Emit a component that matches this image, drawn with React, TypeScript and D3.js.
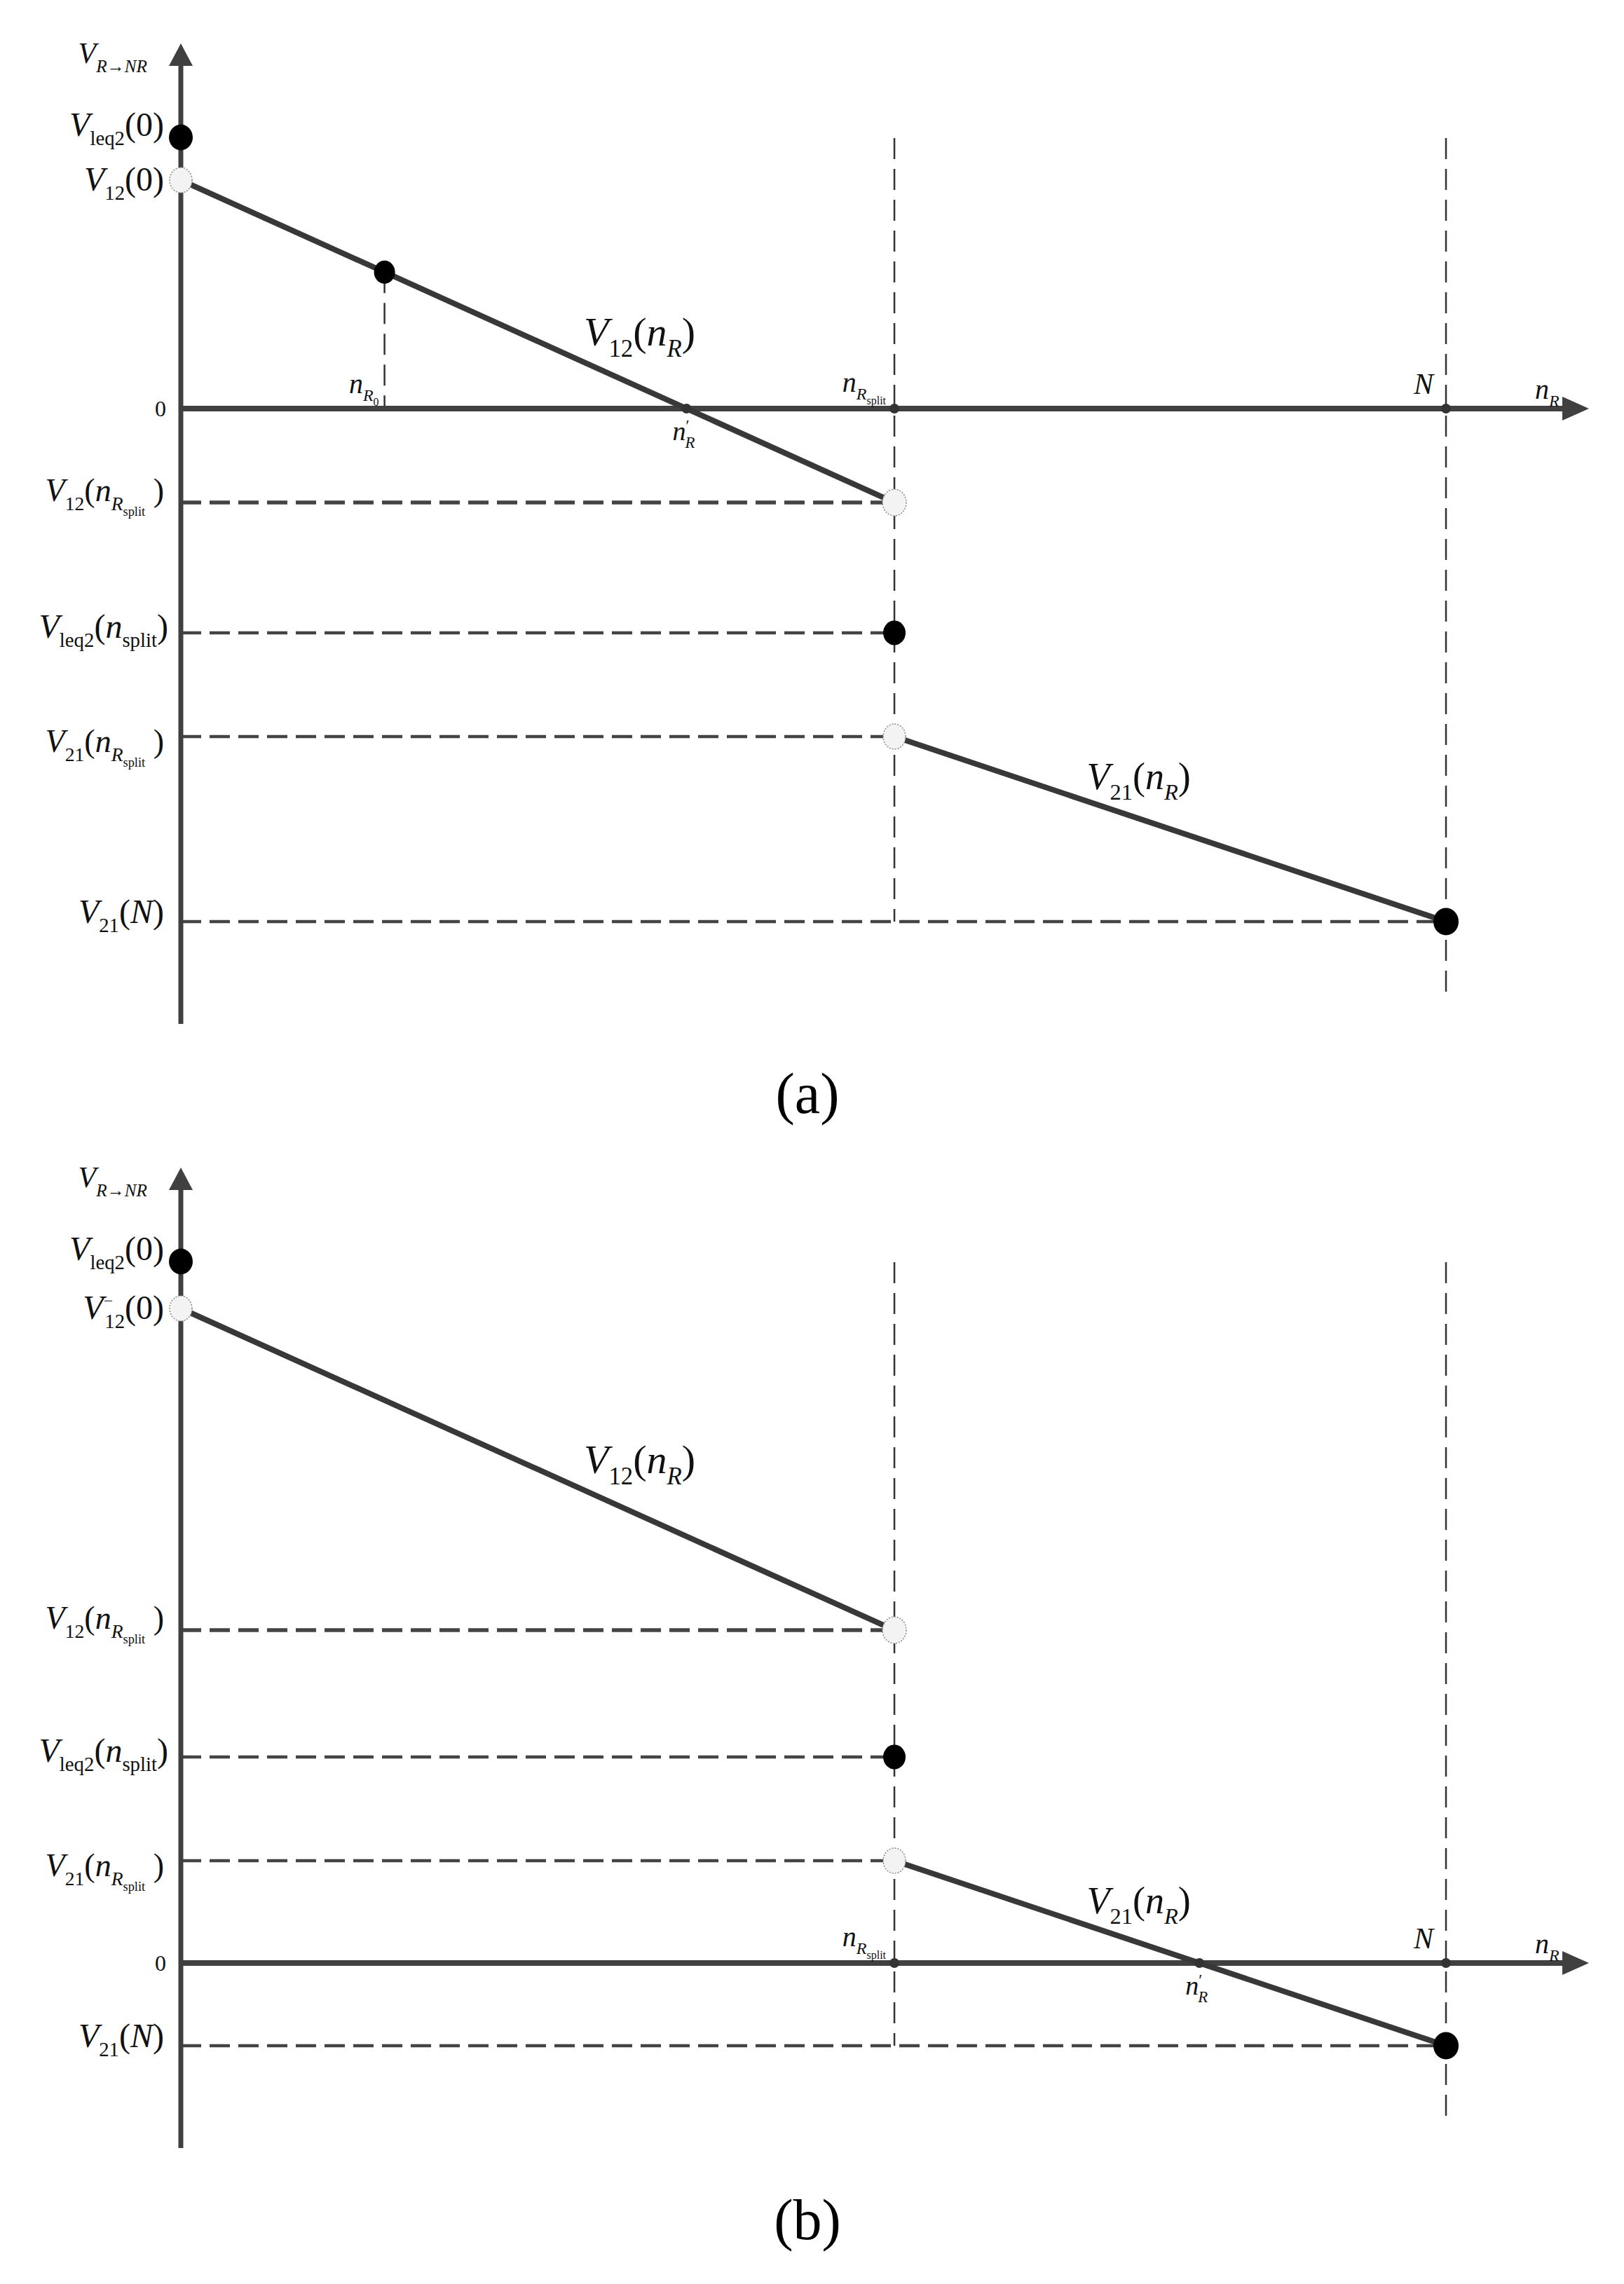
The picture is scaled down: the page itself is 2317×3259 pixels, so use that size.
import React from 'react';
import * as d3 from 'd3';

const WIDTH = 2317;
const HEIGHT = 3259;

// ---------------- data (abstract units) ----------------
// n_R axis positions
const xKeys = ['zero', 'nR0', 'nSplit', 'N', 'axisEnd'];
const xVals = [0, 16.1, 56.4, 100, 111.3];

// per panel values of V_{R->NR}
const panelCaptions = ['(a)', '(b)'];
const yTopVals = [52.1, 113.5];
const yBottomVals = [-87.8, -26.4];
const vLeq2Zero = [38.7, 100.1];
const v12Zero = [32.6, 93.4];
const v12Split = [-13.4, 47.5];
const vLeq2Split = [-32.0, 29.4];
const v21Split = [-46.8, 14.6];
const v21End = [-73.2, -11.8];
const guideTopVals = [38.6, 100.0];
const guideNBottomVals = [-84.5, -23.1];
const hasR0Marker = [true, false];

// ---------------- layout ----------------
const PANEL_TOP = [62, 1666];
const PANEL_BOTTOM = [1461, 3065];
const X_LEFT = 258;
const X_RIGHT = 2267;
const CAPTION_Y = [1588, 3195];
const CAPTION_X = 1152;

const SERIF = "'Liberation Serif', 'Times New Roman', serif";
const AXIS_COLOR = '#404040';
const LINE_COLOR = '#383838';

type Seg = { t: string; it?: boolean; s?: number; b?: number; dx?: number };

function Rich({ x, y, size, anchor = 'start', segs }: { x: number; y: number; size: number; anchor?: string; segs: Seg[] }) {
  let prev = 0;
  return (
    <text x={x} y={y} fontSize={size} textAnchor={anchor as any} fontFamily={SERIF} fill="#111">
      {segs.map((g, k) => {
        const b = g.b ?? 0;
        const dy = (b - prev) * size;
        prev = b;
        return (
          <tspan key={k} dy={dy} dx={g.dx ?? 0} fontSize={size * (g.s ?? 1)} fontStyle={g.it ? 'italic' : 'normal'}>
            {g.t}
          </tspan>
        );
      })}
    </text>
  );
}

const S = 0.6; // subscript size
const SB = 0.28; // subscript baseline shift
const SS = 0.4; // sub-subscript size
const SSB = 0.45;

const lblVR: Seg[] = [{ t: 'V', it: true }, { t: 'R→NR', it: true, s: 0.6, b: 0.3 }];
const lblVleq2Zero: Seg[] = [{ t: 'V', it: true }, { t: 'leq2', s: S, b: SB }, { t: '(0)', b: 0 }];
const lblV12ZeroA: Seg[] = [{ t: 'V', it: true }, { t: '12', s: S, b: SB }, { t: '(0)', b: 0 }];
const lblV12ZeroB: Seg[] = [
  { t: 'V', it: true },
  { t: '−', s: 0.5, b: -0.38 },
  { t: '12', s: S, b: SB, dx: -12 },
  { t: '(0)', b: 0 },
];
const lblV12Split: Seg[] = [
  { t: 'V', it: true },
  { t: '12', s: S, b: SB },
  { t: '(', b: 0 },
  { t: 'n', it: true },
  { t: 'R', it: true, s: S, b: SB },
  { t: 'split', s: SS, b: SSB },
  { t: ' )', b: 0 },
];
const lblVleq2Split: Seg[] = [
  { t: 'V', it: true },
  { t: 'leq2', s: S, b: SB },
  { t: '(', b: 0 },
  { t: 'n', it: true },
  { t: 'split', s: S, b: SB },
  { t: ')', b: 0 },
];
const lblV21Split: Seg[] = [
  { t: 'V', it: true },
  { t: '21', s: S, b: SB },
  { t: '(', b: 0 },
  { t: 'n', it: true },
  { t: 'R', it: true, s: S, b: SB },
  { t: 'split', s: SS, b: SSB },
  { t: ' )', b: 0 },
];
const lblV21N: Seg[] = [{ t: 'V', it: true }, { t: '21', s: S, b: SB }, { t: '(', b: 0 }, { t: 'N', it: true }, { t: ')' }];
const lblV12n: Seg[] = [{ t: 'V', it: true }, { t: '12', s: S, b: SB }, { t: '(', b: 0 }, { t: 'n', it: true }, { t: 'R', it: true, s: S, b: SB }, { t: ')', b: 0 }];
const lblV21n: Seg[] = [{ t: 'V', it: true }, { t: '21', s: S, b: SB }, { t: '(', b: 0 }, { t: 'n', it: true }, { t: 'R', it: true, s: S, b: SB }, { t: ')', b: 0 }];
const lblNR0: Seg[] = [{ t: 'n', it: true }, { t: 'R', it: true, s: S, b: SB }, { t: '0', s: SS, b: SSB }];
const lblNSplit: Seg[] = [{ t: 'n', it: true }, { t: 'R', it: true, s: S, b: SB }, { t: 'split', s: SS, b: SSB }];
const lblN: Seg[] = [{ t: 'N', it: true }];
const lblNR: Seg[] = [{ t: 'n', it: true }, { t: 'R', it: true, s: S, b: SB }];
const lblNPrime: Seg[] = [{ t: 'n', it: true }, { t: '′', s: 0.6, b: -0.35 }, { t: 'R', it: true, s: S, b: SB, dx: -6 }];

function Filled({ cx, cy, r = 16 }: { cx: number; cy: number; r?: number }) {
  return <ellipse cx={cx} cy={cy} rx={r} ry={r + 1.5} fill="#000" />;
}
function Hollow({ cx, cy, r = 16 }: { cx: number; cy: number; r?: number }) {
  return <ellipse cx={cx} cy={cy} rx={r} ry={r + 2} fill="#f3f3f3" stroke="#8a8a8a" strokeWidth={1.5} strokeDasharray="2,2" />;
}

function Panel({ i }: { i: number }) {
  const x = d3.scaleLinear().domain([xVals[0], xVals[4]]).range([X_LEFT, X_RIGHT]);
  const y = d3.scaleLinear().domain([yBottomVals[i], yTopVals[i]]).range([PANEL_BOTTOM[i], PANEL_TOP[i]]);
  const nSplit = xVals[2];
  const nN = xVals[3];
  const nR0 = xVals[1];
  const x0 = x(0);
  const y0 = y(0);
  const yTopPx = y(yTopVals[i]);
  const yBotPx = y(yBottomVals[i]);
  const line = d3.line<[number, number]>().x((d) => x(d[0])).y((d) => y(d[1]));

  const seg12: [number, number][] = [[0, v12Zero[i]], [nSplit, v12Split[i]]];
  const seg21: [number, number][] = [[nSplit, v21Split[i]], [nN, v21End[i]]];
  // zero crossing
  const cross = (s: [number, number][]) =>
    s[0][1] * s[1][1] < 0 ? s[0][0] + ((s[1][0] - s[0][0]) * s[0][1]) / (s[0][1] - s[1][1]) : null;
  const nCross = cross(seg12) ?? cross(seg21);
  const v12At = (n: number) => v12Zero[i] + ((v12Split[i] - v12Zero[i]) * n) / nSplit;
  const v21At = (n: number) => v21Split[i] + ((v21End[i] - v21Split[i]) * (n - nSplit)) / (nN - nSplit);

  const hDash = { stroke: '#444', strokeWidth: 4.5, strokeDasharray: '29,12' };
  const vDash = { stroke: '#333', strokeWidth: 2.5, strokeDasharray: '30,14' };

  const lab12n = 0.643 * nSplit;
  const lab21n = nSplit + 0.443 * (nN - nSplit);

  return (
    <g>
      {/* vertical guides */}
      <line x1={x(nSplit)} x2={x(nSplit)} y1={y(guideTopVals[i])} y2={y(v21End[i])} {...vDash} />
      <line x1={x(nN)} x2={x(nN)} y1={y(guideTopVals[i])} y2={y(guideNBottomVals[i])} {...vDash} />
      {hasR0Marker[i] && <line x1={x(nR0)} x2={x(nR0)} y1={y(v12At(nR0))} y2={y0} {...vDash} />}

      {/* horizontal dashed references */}
      <line x1={x0} x2={x(nSplit)} y1={y(v12Split[i])} y2={y(v12Split[i])} {...hDash} strokeWidth={5.5} />
      <line x1={x0} x2={x(nSplit)} y1={y(vLeq2Split[i])} y2={y(vLeq2Split[i])} {...hDash} />
      <line x1={x0} x2={x(nSplit)} y1={y(v21Split[i])} y2={y(v21Split[i])} {...hDash} />
      <line x1={x0} x2={x(nN)} y1={y(v21End[i])} y2={y(v21End[i])} {...hDash} />

      {/* axes */}
      <line x1={x0} x2={x0} y1={yBotPx} y2={yTopPx + 24} stroke={AXIS_COLOR} strokeWidth={7} />
      <polygon points={`${x0},${yTopPx} ${x0 - 17},${yTopPx + 32} ${x0 + 17},${yTopPx + 32}`} fill={AXIS_COLOR} />
      <line x1={x0} x2={X_RIGHT - 30} y1={y0} y2={y0} stroke={AXIS_COLOR} strokeWidth={8} />
      <polygon points={`${X_RIGHT},${y0} ${X_RIGHT - 38},${y0 - 17} ${X_RIGHT - 38},${y0 + 17}`} fill={AXIS_COLOR} />

      {/* function lines */}
      <path d={line(seg12) ?? ''} fill="none" stroke={LINE_COLOR} strokeWidth={8} />
      <path d={line(seg21) ?? ''} fill="none" stroke={LINE_COLOR} strokeWidth={8} />

      {/* axis tick dots */}
      <circle cx={x(nSplit)} cy={y0} r={7} fill="#333" />
      <circle cx={x(nN)} cy={y0} r={7} fill="#333" />
      {nCross !== null && <circle cx={x(nCross)} cy={y0} r={7} fill="#333" />}

      {/* markers */}
      <Filled cx={x0} cy={y(vLeq2Zero[i])} r={17} />
      <Hollow cx={x0} cy={y(v12Zero[i])} />
      {hasR0Marker[i] && <Filled cx={x(nR0)} cy={y(v12At(nR0))} r={15} />}
      <Hollow cx={x(nSplit)} cy={y(v12Split[i])} r={17} />
      <Filled cx={x(nSplit)} cy={y(vLeq2Split[i])} r={16} />
      <Hollow cx={x(nSplit)} cy={y(v21Split[i])} />
      <Filled cx={x(nN)} cy={y(v21End[i])} r={18} />

      {/* y-axis labels */}
      <Rich x={210} y={yTopPx + 28} size={42} anchor="end" segs={lblVR} />
      <Rich x={234} y={y(vLeq2Zero[i]) - 2} size={48} anchor="end" segs={lblVleq2Zero} />
      <Rich x={234} y={y(v12Zero[i]) + 15} size={48} anchor="end" segs={i === 0 ? lblV12ZeroA : lblV12ZeroB} />
      <Rich x={234} y={y(v12Split[i]) - 2} size={46} anchor="end" segs={lblV12Split} />
      <Rich x={240} y={y(vLeq2Split[i]) + 7} size={48} anchor="end" segs={lblVleq2Split} />
      <Rich x={234} y={y(v21Split[i]) + 22} size={46} anchor="end" segs={lblV21Split} />
      <Rich x={234} y={y(v21End[i]) + 2} size={48} anchor="end" segs={lblV21N} />
      <text x={237} y={y0 + 11} fontSize={32} textAnchor="end" fontFamily={SERIF} fill="#111">0</text>

      {/* x-axis labels */}
      {hasR0Marker[i] && <Rich x={x(nR0) - 8} y={y0 - 22} size={40} anchor="end" segs={lblNR0} />}
      <Rich x={x(nSplit) - 12} y={y0 - 24} size={40} anchor="end" segs={lblNSplit} />
      <Rich x={x(nN) - 18} y={y0 - 21} size={42} anchor="end" segs={lblN} />
      <Rich x={X_RIGHT - 77} y={y0 - 14} size={40} anchor="start" segs={lblNR} />
      {nCross !== null && <Rich x={x(nCross) - 20} y={y0 + 45} size={38} anchor="start" segs={lblNPrime} />}

      {/* curve labels */}
      <Rich x={x(lab12n)} y={y(v12At(lab12n)) - 60} size={58} anchor="middle" segs={lblV12n} />
      <Rich x={x(lab21n)} y={y(v21At(lab21n)) - 42} size={54} anchor="middle" segs={lblV21n} />

      {/* caption */}
      <text x={CAPTION_X} y={CAPTION_Y[i]} fontSize={82} textAnchor="middle" fontFamily={SERIF} fill="#000">
        {panelCaptions[i]}
      </text>
    </g>
  );
}

export default function App() {
  return (
    <svg
      width={WIDTH}
      height={HEIGHT}
      viewBox={`0 0 ${WIDTH} ${HEIGHT}`}
      style={{ position: 'absolute', left: 0, top: 0, background: '#fff' }}
    >
      <rect x={0} y={0} width={WIDTH} height={HEIGHT} fill="#fff" />
      {panelCaptions.map((_, i) => (
        <Panel key={i} i={i} />
      ))}
    </svg>
  );
}
